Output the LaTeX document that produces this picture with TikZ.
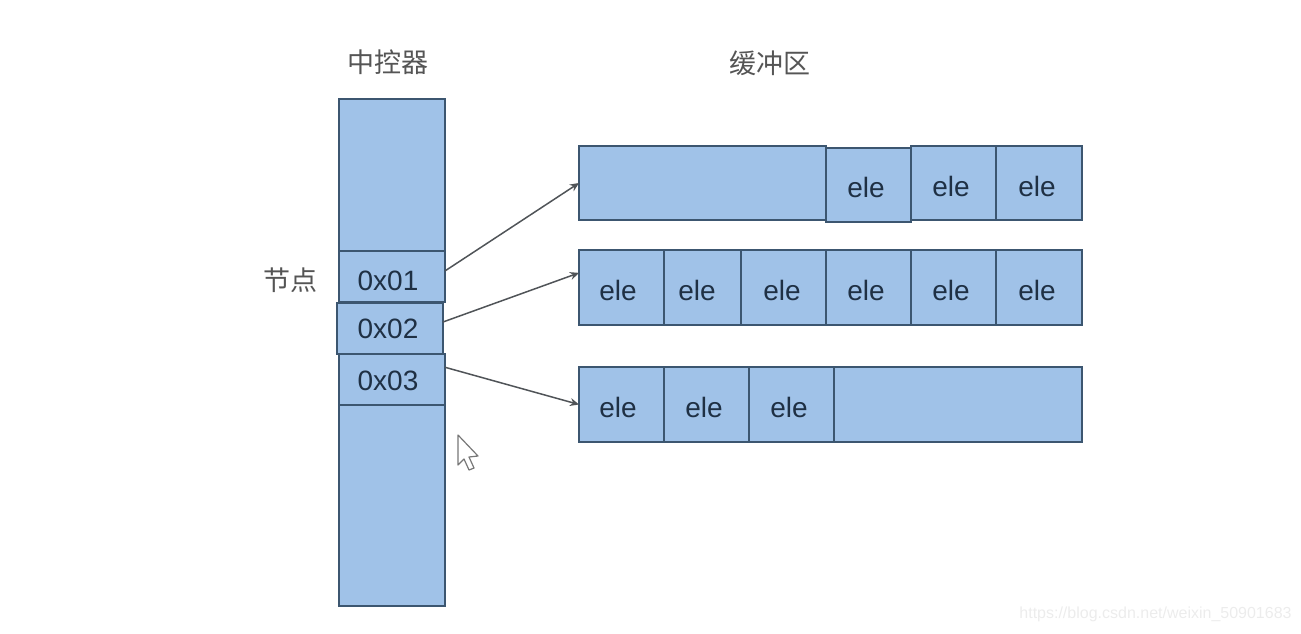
\documentclass[tikz,border=0pt]{standalone}
\usepackage{fontspec}
\setmainfont{Liberation Sans}
\newfontfamily\cjk{Noto Sans CJK SC}
\usepackage{tikz}
\usetikzlibrary{arrows.meta}
\definecolor{CellBlue}{HTML}{A0C2E8}
\definecolor{CellLine}{HTML}{3C5670}
\definecolor{CellText}{HTML}{1F3044}
\definecolor{ArrowGray}{HTML}{505458}
\definecolor{TitleGray}{HTML}{555555}
\definecolor{MarkGray}{HTML}{ECECEC}
% label sits left of and below the cell centre
\newcommand{\lbl}[3]{\raisebox{0pt}[\dimexpr\height+#2pt*2\relax]{#3\hspace{#1pt}}}

\begin{document}
\begin{tikzpicture}[x=1pt,y=-1pt,>={Stealth[length=9pt,width=8pt]}]
  \tikzstyle{cell}=[draw=CellLine,fill=CellBlue,line width=1.3pt,inner sep=0pt,
    outer sep=0pt,text=CellText,font=\fontsize{28}{30}\selectfont]
  \tikzstyle{title}=[inner sep=0pt,text=TitleGray,font=\fontsize{27}{30}\selectfont\cjk]
  \useasboundingbox (0,0) rectangle (1301,633);
  \node[title] (ctrl) at (388,62) {中控器};
  \node[title] (buf) at (770,63) {缓冲区};
  \node[title] (knot) at (290,280) {节点};
  \node[cell,minimum width=106pt,minimum height=152pt] (top) at (392,175) {};
  \node[cell,minimum width=106pt,minimum height=201pt] (bottom) at (392,505.5) {};
  \node[cell,minimum width=106pt,minimum height=51pt] (slot1) at (392,276.5) {\lbl{8}{4.5}{0x01}};
  \node[cell,minimum width=106pt,minimum height=51pt] (slot3) at (392,379.5) {\lbl{8}{1.5}{0x03}};
  \node[cell,minimum width=106pt,minimum height=51pt] (slot2) at (390,328.5) {\lbl{4}{0.5}{0x02}};
  \node[cell,minimum width=247pt,minimum height=74pt] (free1) at (702.5,183) {};
  \node[cell,minimum width=85pt,minimum height=74pt] (a2) at (953.5,183) {\lbl{5}{3}{ele}};
  \node[cell,minimum width=86pt,minimum height=74pt] (a3) at (1039,183) {\lbl{4}{3}{ele}};
  \node[cell,minimum width=85pt,minimum height=74pt] (a1) at (868.5,185) {\lbl{5}{2}{ele}};
  \node[cell,minimum width=85pt,minimum height=75pt] (b1) at (621.5,287.5) {\lbl{7}{3}{ele}};
  \node[cell,minimum width=77pt,minimum height=75pt] (b2) at (702.5,287.5) {\lbl{11}{3}{ele}};
  \node[cell,minimum width=85pt,minimum height=75pt] (b3) at (783.5,287.5) {\lbl{3}{3}{ele}};
  \node[cell,minimum width=85pt,minimum height=75pt] (b4) at (868.5,287.5) {\lbl{5}{3}{ele}};
  \node[cell,minimum width=85pt,minimum height=75pt] (b5) at (953.5,287.5) {\lbl{5}{3}{ele}};
  \node[cell,minimum width=86pt,minimum height=75pt] (b6) at (1039,287.5) {\lbl{4}{3}{ele}};
  \node[cell,minimum width=85pt,minimum height=75pt] (c1) at (621.5,404.5) {\lbl{7}{3}{ele}};
  \node[cell,minimum width=85pt,minimum height=75pt] (c2) at (706.5,404.5) {\lbl{5}{3}{ele}};
  \node[cell,minimum width=85pt,minimum height=75pt] (c3) at (791.5,404.5) {\lbl{5}{3}{ele}};
  \node[cell,minimum width=248pt,minimum height=75pt] (free3) at (958,404.5) {};
  \draw[->,line width=1.5pt,color=ArrowGray] (slot1.6)--(free1.west);
  \draw[->,line width=1.5pt,color=ArrowGray] (slot2.7)--(b1.161);
  \draw[->,line width=1.5pt,color=ArrowGray] (slot3.13)--(c1.west);
  % pointer
  \draw[draw=TitleGray!80,fill=white,line width=1.2pt,line join=round]
    (458,435)--(458,465)--(464,459)--(469,470)--(474,468)--(469,457)--(478,456)--cycle;
  \node[text=MarkGray,inner sep=0pt,font=\fontsize{16}{18}\selectfont] (mark) at (1155.5,614)
    {https://blog.csdn.net/weixin\_50901683};
\end{tikzpicture}
\end{document}
